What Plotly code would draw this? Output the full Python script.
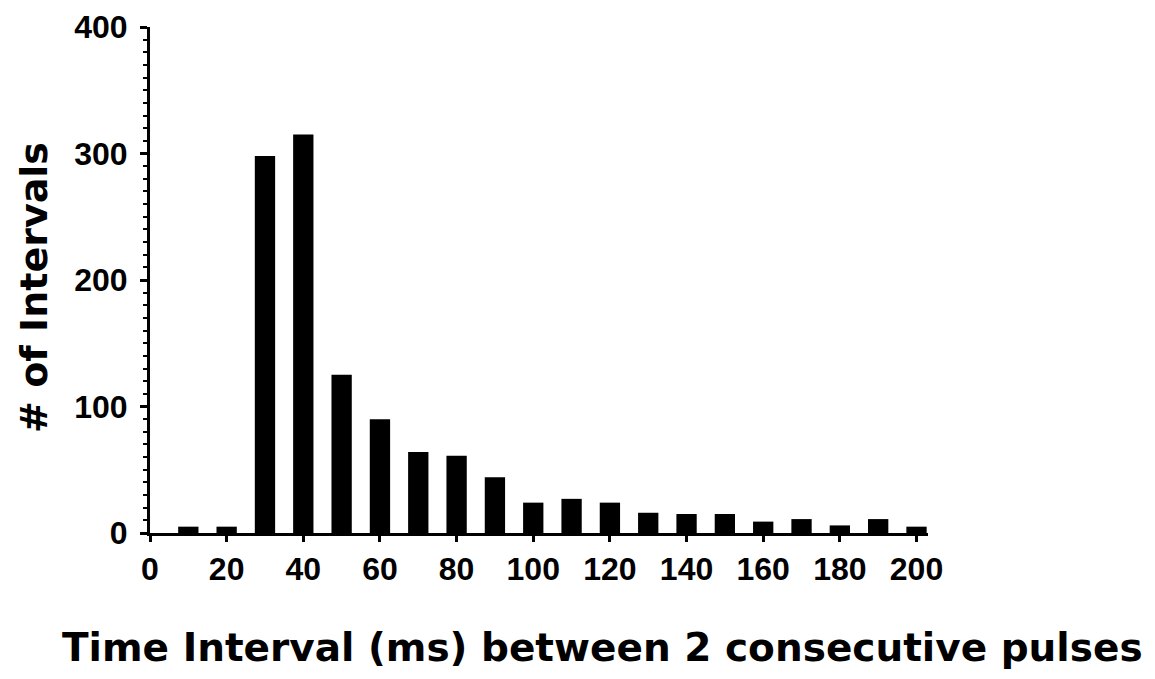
import plotly.graph_objects as go

bin_centers = [10, 20, 30, 40, 50, 60, 70, 80, 90, 100,
               110, 120, 130, 140, 150, 160, 170, 180, 190, 200]
counts = [5, 5, 298, 315, 125, 90, 64, 61, 44, 24,
          27, 24, 16, 15, 15, 9, 11, 6, 11, 5]
x_ticks = [0, 20, 40, 60, 80, 100, 120, 140, 160, 180, 200]
y_ticks = [0, 100, 200, 300, 400]
x_title = "Time Interval (ms) between 2 consecutive pulses"
y_title = "# of Intervals"

FONT = "Liberation Sans, Arial, sans-serif"
TITLE_FONT = "DejaVu Sans, Liberation Sans, sans-serif"

fig = go.Figure(go.Bar(
    x=bin_centers, y=counts, width=5.3,
    marker=dict(color="black", line=dict(width=0)),
))

fig.update_layout(
    width=1155, height=679,
    margin=dict(l=142, r=235, t=19, b=154, autoexpand=False),
    paper_bgcolor="white", plot_bgcolor="white",
    showlegend=False,
    font=dict(family=FONT, color="black"),
    xaxis=dict(
        range=[0, 203], tickvals=x_ticks, ticktext=[str(v) for v in x_ticks],
        showgrid=False, zeroline=False, automargin=False,
        ticklabeloverflow="allow",
        showline=True, linecolor="black", linewidth=3,
        ticks="outside", ticklen=6, tickwidth=3, tickcolor="black",
        tickfont=dict(family=FONT, size=32, color="black", weight="bold"),
    ),
    yaxis=dict(
        range=[0, 400], tickvals=y_ticks, ticktext=[str(v) for v in y_ticks],
        showgrid=False, zeroline=False, automargin=False,
        ticklabeloverflow="allow",
        showline=True, linecolor="black", linewidth=3,
        ticks="outside", ticklen=7, tickwidth=3, tickcolor="black",
        ticklabelstandoff=6,
        tickfont=dict(family=FONT, size=32, color="black", weight="bold"),
        minor=dict(dtick=10, ticks="outside", ticklen=4, tickwidth=2, tickcolor="black", showgrid=False),
    ),
    annotations=[
        dict(text=x_title, xref="paper", yref="paper", x=0.582, y=-0.226,
             xanchor="center", yanchor="middle", showarrow=False,
             font=dict(family=TITLE_FONT, size=39, color="black", weight="bold")),
        dict(text=y_title, xref="paper", yref="paper", x=-0.150, y=0.485,
             xanchor="center", yanchor="middle", showarrow=False, textangle=-90,
             font=dict(family=TITLE_FONT, size=38, color="black", weight="bold")),
    ],
)

fig.write_html("out.html")
